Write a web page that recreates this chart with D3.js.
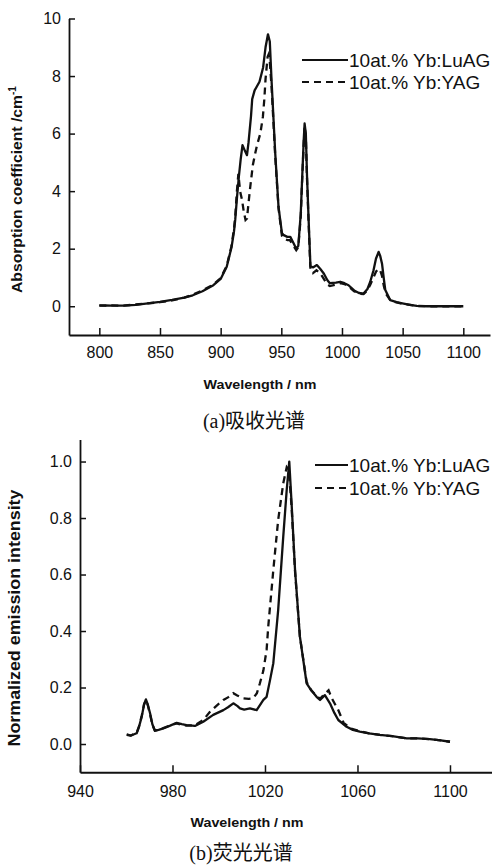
<!DOCTYPE html>
<html>
<head>
<meta charset="utf-8">
<script src="https://cdn.jsdelivr.net/npm/d3@7"></script>
<style>
  html, body { margin: 0; padding: 0; background: #fff; }
  svg { display: block; }
  .tick text { font-family: "Liberation Sans", Arial, sans-serif; font-size: 16px; fill: #111; }
</style>
</head>
<body>
<div id="chart"></div>
<script>
// ---- data ----
const seriesNames = ["10at.% Yb:LuAG", "10at.% Yb:YAG"];

// (a) absorption, [wavelength nm, coefficient cm^-1]
const absLuAG = [
  [800,0.02],[805,0.03],[810,0.02],[820,0.02],[830,0.05],[840,0.1],[850,0.15],[860,0.22],
  [870,0.3],[877,0.38],[885,0.52],[894,0.73],[900,0.95],[905,1.37],[909,2.06],[911,2.6],
  [912,3.0],[913.5,3.8],[915,4.5],[916.5,5.1],[918,5.6],[920,5.4],[921.7,5.25],[923,5.7],
  [925,6.6],[926,7.2],[928,7.5],[932,7.8],[935,8.3],[937,9.0],[939,9.45],[940.5,9.2],
  [942,7.8],[945,5.3],[947.7,3.45],[950.5,2.54],[952,2.47],[955,2.41],[957.4,2.41],[960,2.2],
  [962.3,2.0],[964,2.1],[966,3.2],[967,4.27],[968.5,5.8],[969.2,6.35],[970.2,6.0],[971.2,4.5],
  [972.5,3.0],[974,1.4],[976,1.35],[979.3,1.43],[982,1.3],[985,1.14],[988,0.9],[990,0.8],
  [995,0.82],[998.6,0.85],[1002,0.8],[1005.4,0.73],[1010,0.55],[1014,0.46],[1017.8,0.44],
  [1021,0.6],[1023.3,0.85],[1026,1.25],[1028,1.65],[1030.2,1.89],[1031.5,1.75],[1033,1.48],
  [1034.5,0.95],[1035.7,0.56],[1039.8,0.21],[1045,0.14],[1050.8,0.09],[1056,0.05],
  [1061.7,0.01],[1070,0.0],[1080,0.0],[1090,0.0],[1100,0.0]
];
const absYAG = [
  [800,0.03],[805,0.02],[810,0.03],[820,0.02],[830,0.06],[840,0.1],[850,0.14],[860,0.2],
  [870,0.3],[877,0.4],[885,0.55],[894,0.75],[900,0.98],[905,1.4],[909,2.1],[911,2.7],
  [912,3.1],[913.4,4.0],[914.6,4.6],[916,4.0],[917.6,3.7],[919,3.3],[920.5,3.0],[921.7,3.05],
  [923,3.6],[924.4,4.15],[926.5,4.9],[928.5,5.32],[930,5.6],[932.7,6.0],[934.8,6.58],[936,7.2],
  [937,7.9],[938.7,8.67],[939.5,8.75],[940.5,8.5],[942,7.6],[945,5.2],[947.7,3.4],[950.5,2.45],
  [952,2.35],[955,2.3],[957,2.3],[960,2.1],[962.3,1.95],[964,2.05],[966,3.1],[967,4.2],
  [968.5,5.7],[969.2,6.25],[970.2,5.9],[971.2,4.4],[972.5,2.9],[974,1.25],[976,1.15],[979,1.25],
  [982,1.15],[985,0.95],[988,0.75],[990,0.7],[995,0.75],[998.6,0.8],[1002,0.77],[1005,0.7],
  [1010,0.52],[1014,0.44],[1017.8,0.42],[1021,0.55],[1023.3,0.75],[1026,1.0],[1028,1.2],
  [1030.2,1.3],[1031.5,1.25],[1033,1.05],[1034.5,0.7],[1036,0.45],[1040,0.2],[1045,0.13],
  [1050.8,0.08],[1056,0.05],[1061.7,0.01],[1070,0.0],[1080,0.0],[1090,0.0],[1100,0.0]
];

// (b) emission, [wavelength nm, normalized intensity]
const emiLuAG = [
  [960.2,0.032],[962,0.03],[964.5,0.038],[965.5,0.06],[966.7,0.097],[967.7,0.14],[968.5,0.158],
  [969.3,0.14],[970.3,0.109],[971.3,0.07],[972.4,0.047],[974,0.05],[976,0.055],[979,0.065],
  [981.8,0.075],[984,0.07],[986.1,0.067],[989.7,0.064],[993.3,0.079],[997.6,0.103],[1002,0.12],
  [1004,0.13],[1006.3,0.144],[1008,0.135],[1009.2,0.126],[1011,0.122],[1013.5,0.126],
  [1016.4,0.12],[1019.3,0.156],[1020.7,0.167],[1022.2,0.227],[1023.6,0.286],[1025.7,0.474],
  [1027.9,0.734],[1029.4,0.9],[1030.5,1.0],[1031.5,0.852],[1033,0.616],[1035.1,0.38],
  [1038,0.215],[1040,0.19],[1042.3,0.167],[1043.8,0.156],[1045.9,0.173],[1048.1,0.144],
  [1050,0.11],[1051.7,0.085],[1055.3,0.061],[1058,0.05],[1061,0.044],[1065,0.038],
  [1069.7,0.032],[1075,0.028],[1081.3,0.02],[1086,0.02],[1091.3,0.017],[1096,0.013],[1100,0.008]
];
const emiYAG = [
  [960.2,0.034],[962,0.03],[964.5,0.04],[965.5,0.062],[966.7,0.1],[967.7,0.14],[968.5,0.155],
  [969.3,0.138],[970.3,0.105],[971.3,0.068],[972.4,0.047],[974,0.05],[976,0.056],[979,0.066],
  [981.8,0.073],[984,0.068],[986.1,0.065],[989.7,0.066],[993.3,0.085],[996.2,0.114],[999,0.135],
  [1002,0.156],[1004,0.165],[1006.3,0.18],[1008,0.172],[1010.6,0.162],[1013,0.16],[1014.9,0.162],
  [1016.5,0.18],[1017.8,0.215],[1019.3,0.26],[1020.7,0.333],[1021.4,0.415],[1023.6,0.616],
  [1025.7,0.793],[1027.9,0.923],[1029.4,0.98],[1030.3,0.97],[1031.5,0.84],[1033,0.61],
  [1035.1,0.38],[1038,0.22],[1040,0.19],[1042.3,0.17],[1043.8,0.16],[1045.5,0.175],[1047.5,0.19],
  [1049,0.16],[1051.7,0.12],[1054,0.075],[1057,0.055],[1061,0.045],[1065,0.038],[1069.7,0.032],
  [1075,0.028],[1081.3,0.02],[1086,0.02],[1091.3,0.017],[1096,0.013],[1100,0.008]
];

const absXTicks = [800, 850, 900, 950, 1000, 1050, 1100];
const absYTicks = [0, 2, 4, 6, 8, 10];
const emiXTicks = [940, 980, 1020, 1060, 1100];
const emiYTicks = [0, 0.2, 0.4, 0.6, 0.8, 1.0];

const W = 492, H = 865;
const svg = d3.select("#chart").append("svg")
  .attr("width", W).attr("height", H)
  .attr("viewBox", `0 0 ${W} ${H}`);
svg.append("rect").attr("width", W).attr("height", H).attr("fill", "#fff");

function panel(cfg) {
  const x = d3.scaleLinear().domain(cfg.xDomain).range(cfg.xRange);
  const y = d3.scaleLinear().domain(cfg.yDomain).range(cfg.yRange);
  const g = svg.append("g");

  // lines first, axes on top
  const line = d3.line().x(d => x(d[0])).y(d => y(d[1]));
  g.append("path").datum(cfg.series[0])
    .attr("d", line).attr("fill", "none").attr("stroke", "#111")
    .attr("stroke-width", 2.3).attr("stroke-linejoin", "round");
  g.append("path").datum(cfg.series[1])
    .attr("d", line).attr("fill", "none").attr("stroke", "#111")
    .attr("stroke-width", 2.3).attr("stroke-dasharray", "7,5");

  const xAxis = g.append("g")
    .attr("transform", `translate(0,${cfg.yRange[0]})`)
    .call(d3.axisBottom(x).tickValues(cfg.xTicks).tickFormat(d3.format("d"))
      .tickSizeInner(-7).tickSizeOuter(0).tickPadding(cfg.xPad));
  const yAxis = g.append("g")
    .attr("transform", `translate(${cfg.xRange[0]},0)`)
    .call(d3.axisLeft(y).tickValues(cfg.yTicks).tickFormat(cfg.yFmt)
      .tickSizeInner(-6).tickSizeOuter(0).tickPadding(cfg.yPad));
  [xAxis, yAxis].forEach(a => {
    a.select(".domain").attr("stroke", "#111").attr("stroke-width", 1.8);
    a.selectAll(".tick line").attr("stroke", "#111").attr("stroke-width", 1.5);
  });

  // legend
  cfg.series.forEach((s, i) => {
    const ly = cfg.legY + i * cfg.legGap;
    g.append("line")
      .attr("x1", cfg.legX1).attr("x2", cfg.legX2).attr("y1", ly).attr("y2", ly)
      .attr("stroke", "#111").attr("stroke-width", 2)
      .attr("stroke-dasharray", i === 1 ? "7,5" : null);
    g.append("text").attr("x", cfg.legX2 + 1).attr("y", ly + 7)
      .attr("font-family", "Liberation Sans, Arial, sans-serif")
      .attr("font-size", 19).attr("fill", "#111")
      .text(seriesNames[i]);
  });

  // x title
  g.append("text").attr("x", cfg.xTitleX).attr("y", cfg.xTitleY)
    .attr("text-anchor", "middle")
    .attr("font-family", "Liberation Sans, Arial, sans-serif")
    .attr("font-weight", "bold").attr("font-size", 13)
    .attr("textLength", 113).attr("lengthAdjust", "spacingAndGlyphs")
    .attr("fill", "#111").text("Wavelength / nm");

  // y title
  const yt = g.append("text")
    .attr("transform", `translate(${cfg.yTitleX},${cfg.yTitleY}) rotate(-90)`)
    .attr("font-family", "Liberation Sans, Arial, sans-serif")
    .attr("font-weight", "bold").attr("font-size", cfg.yTitleSize)
    .attr("fill", "#111");
  yt.append("tspan").attr("x", -cfg.yTitleLen / 2)
    .attr("textLength", cfg.yTitleMain).attr("lengthAdjust", "spacingAndGlyphs")
    .text(cfg.yTitle);
  if (cfg.ySup) {
    yt.append("tspan").attr("dy", -6).attr("font-size", 10).text(cfg.ySup);
  }

  // caption
  g.append("text").attr("x", cfg.capX).attr("y", cfg.capY)
    .attr("text-anchor", "middle")
    .attr("font-family", "Liberation Serif, 'Noto Sans CJK SC', serif")
    .attr("font-size", 20).attr("fill", "#111")
    .text(cfg.caption);
}

panel({
  series: [absLuAG, absYAG],
  xDomain: [775, 1122], xRange: [69, 490],
  yDomain: [-1, 10], yRange: [335, 18.5],
  xTicks: absXTicks, yTicks: absYTicks, yFmt: d3.format("d"),
  xPad: 12, yPad: 8,
  legX1: 302, legX2: 348, legY: 60, legGap: 22,
  xTitleX: 260, xTitleY: 389,
  yTitleX: 22, yTitleY: 189, yTitleSize: 15, yTitleLen: 208, yTitleMain: 198,
  yTitle: "Absorption coefficient /cm", ySup: "-1",
  capX: 254, capY: 428, caption: "(a)吸收光谱"
});

panel({
  series: [emiLuAG, emiYAG],
  xDomain: [940, 1118], xRange: [80, 491.6],
  yDomain: [-0.1, 1.078], yRange: [772.25, 439.5],
  xTicks: emiXTicks, yTicks: emiYTicks, yFmt: d3.format(".1f"),
  xPad: 13, yPad: 8,
  legX1: 315, legX2: 348, legY: 465, legGap: 23,
  xTitleX: 247, xTitleY: 827,
  yTitleX: 20, yTitleY: 618, yTitleSize: 17, yTitleLen: 257, yTitleMain: 257,
  yTitle: "Normalized emission intensity", ySup: null,
  capX: 241, capY: 860, caption: "(b)荧光光谱"
});
</script>
</body>
</html>
